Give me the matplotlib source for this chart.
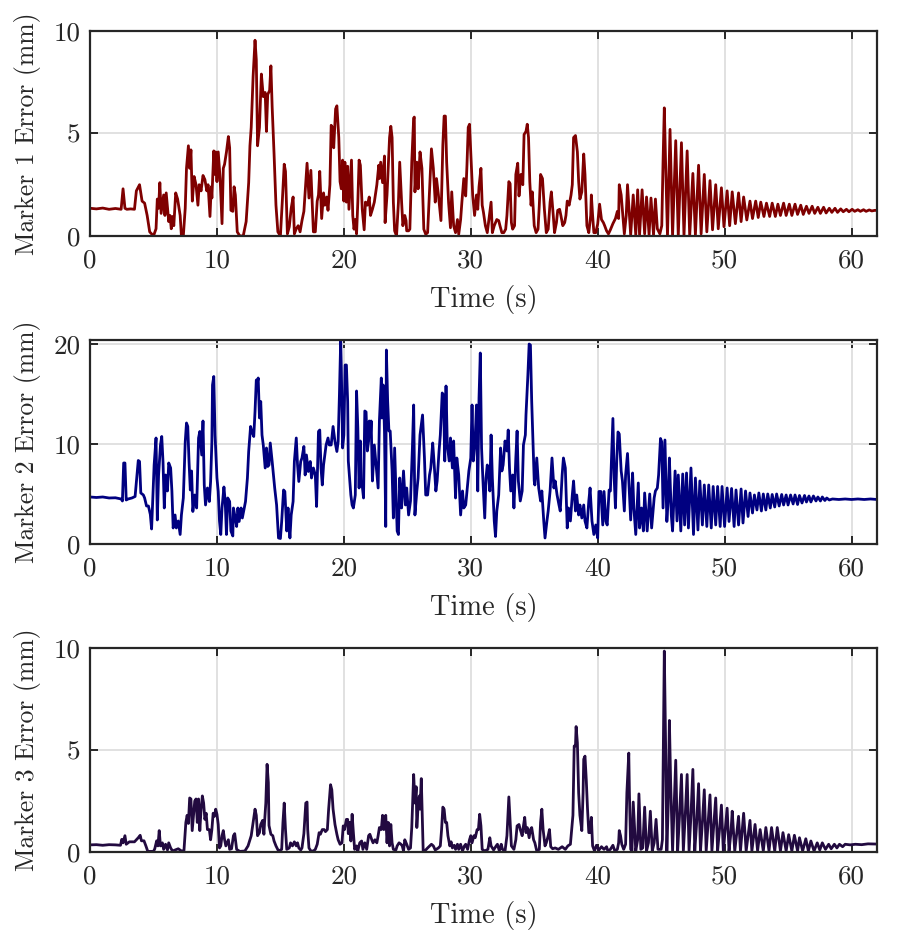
import matplotlib
matplotlib.use("Agg")
import matplotlib.pyplot as plt
import numpy as np

# ---------------- Marker 1 ----------------
t1 = [0.0, 0.5, 1.0, 1.5, 2.0, 2.45, 2.6, 2.75, 2.9, 3.2, 3.5, 3.65, 3.9, 4.1, 4.3, 4.5, 4.7, 5.0, 5.2, 5.3,
      5.4, 5.5, 5.6, 5.8, 5.9, 6.0, 6.2, 6.3, 6.4, 6.5, 6.6, 6.75, 6.9, 7.1, 7.2, 7.35, 7.5, 7.6, 7.75, 7.85,
      7.95, 8.06, 8.2, 8.35, 8.5, 8.6, 8.75, 8.9, 9.05, 9.2, 9.3, 9.45, 9.55, 9.6, 9.75, 9.85, 9.9, 10.0, 10.1, 10.25,
      10.4, 10.5, 10.6, 10.75, 10.9, 11.0, 11.1, 11.25, 11.35, 11.45, 11.6, 11.8, 12.07, 12.3, 12.5, 12.6, 12.7, 12.85, 13.0, 13.1,
      13.2, 13.35, 13.5, 13.65, 13.8, 13.9, 14.0, 14.15, 14.25, 14.35, 14.5, 14.65, 14.8, 15.0, 15.15, 15.3, 15.4, 15.55, 15.7, 15.85,
      16.0, 16.1, 16.25, 16.4, 16.55, 16.7, 16.85, 17.0, 17.1, 17.25, 17.4, 17.5, 17.6, 17.75, 17.9, 18.0, 18.1, 18.25, 18.4, 18.5,
      18.65, 18.75, 18.9, 19.0, 19.1, 19.2, 19.35, 19.45, 19.6, 19.7, 19.8, 19.9, 20.0, 20.08, 20.2, 20.3, 20.4, 20.6, 20.7, 20.8,
      20.9, 21.0, 21.1, 21.2, 21.3, 21.45, 21.6, 21.7, 21.85, 22.0, 22.1, 22.25, 22.4, 22.6, 22.75, 22.8, 22.9, 23.05, 23.2, 23.25,
      23.4, 23.5, 23.6, 23.7, 23.8, 23.9, 24.0, 24.15, 24.3, 24.4, 24.55, 24.65, 24.8, 24.9, 24.95, 25.1, 25.2, 25.35, 25.5, 25.55,
      25.6, 25.75, 25.85, 26.0, 26.15, 26.3, 26.45, 26.6, 26.7, 26.8, 26.9, 27.05, 27.2, 27.3, 27.45, 27.65, 27.8, 27.9, 28.0, 28.1,
      28.25, 28.4, 28.5, 28.65, 28.8, 28.95, 29.05, 29.2, 29.3, 29.45, 29.6, 29.7, 29.8, 29.9, 30.0, 30.15, 30.3, 30.45, 30.55, 30.65,
      30.8, 30.9, 31.0, 31.15, 31.3, 31.4, 31.6, 31.7, 31.85, 32.05, 32.2, 32.3, 32.45, 32.6, 32.75, 32.85, 33.0, 33.1, 33.2, 33.3,
      33.45, 33.55, 33.7, 33.8, 33.95, 34.1, 34.2, 34.35, 34.45, 34.55, 34.65, 34.75, 34.85, 35.0, 35.15, 35.3, 35.4, 35.5, 35.65, 35.8,
      35.95, 36.1, 36.25, 36.35, 36.5, 36.6, 36.75, 36.85, 37.0, 37.1, 37.25, 37.4, 37.5, 37.6, 37.75, 37.9, 38.0, 38.1, 38.25, 38.4,
      38.5, 38.6, 38.75, 38.9, 39.0, 39.15, 39.3, 39.45, 39.5, 39.6, 39.7, 39.85, 40.0, 40.15, 40.3, 40.45, 40.55, 40.7, 40.85, 41.0,
      41.2, 41.4, 41.55, 41.65, 41.7, 41.85, 42.0, 42.1, 42.25, 42.35, 42.5, 42.6, 42.8, 43.0, 43.15, 43.3, 43.5, 43.7, 43.85, 44.05,
      44.2, 44.4, 44.55, 44.7, 44.9, 45.05, 45.15, 45.25, 45.35, 45.5, 45.7, 45.9, 46.15, 46.35, 46.6, 46.8, 47.05, 47.25, 47.5, 47.7,
      47.95, 48.15, 48.4, 48.6, 48.85, 49.05, 49.3, 49.5, 49.75, 49.95, 50.2, 50.4, 50.6, 50.85, 51.1, 51.3, 51.5, 51.75, 52.0, 52.2,
      52.45, 52.65, 52.85, 53.1, 53.3, 53.55, 53.75, 54.0, 54.2, 54.4, 54.65, 54.85, 55.1, 55.3, 55.55, 55.75, 56.0, 56.2, 56.45, 56.65,
      56.9, 57.1, 57.35, 57.55, 57.8, 58.0, 58.25, 58.45, 58.7, 58.9, 59.15, 59.35, 59.6, 59.8, 60.05, 60.25, 60.5, 60.7, 60.95, 61.15,
      61.4, 61.6, 61.85, 62.0]
e1 = [1.35, 1.32, 1.36, 1.30, 1.34, 1.30, 2.3, 1.35, 1.3, 1.32, 1.3, 2.2, 2.5, 1.7, 1.6, 1.0, 0.2, 0.0, 0.35, 1.8,
      1.35, 2.6, 1.1, 2.0, 1.0, 2.1, 0.7, 1.0, 0.35, 0.95, 0.5, 2.1, 1.8, 1.0, 0.0, 0.0, 1.35, 3.3, 4.4, 3.3,
      4.2, 1.7, 2.9, 2.5, 1.5, 2.5, 2.2, 2.95, 2.75, 2.2, 2.5, 0.95, 2.4, 1.85, 4.15, 3.0, 4.1, 2.65, 4.1, 2.8,
      0.6, 3.3, 3.5, 4.1, 4.85, 4.3, 1.25, 1.2, 2.4, 2.0, 0.2, 0.0, 0.0, 0.7, 2.6, 4.4, 5.3, 7.8, 9.55, 8.6,
      4.4, 5.3, 7.9, 6.8, 7.0, 5.1, 6.9, 7.1, 8.3, 6.3, 4.0, 1.5, 0.2, 0.0, 1.7, 3.5, 3.15, 0.1, 0.45, 1.35,
      1.9, 0.1, 0.35, 0.5, 0.2, 0.75, 1.2, 2.6, 3.55, 1.85, 3.2, 1.7, 0.2, 0.2, 1.7, 2.0, 3.15, 0.85, 2.1, 1.5,
      1.9, 1.25, 2.5, 5.4, 5.3, 4.3, 6.2, 6.35, 4.8, 2.65, 2.3, 3.7, 1.7, 3.6, 1.65, 3.4, 1.3, 3.7, 1.0, 0.33,
      0.8, 0.1, 1.65, 3.7, 3.45, 1.3, 0.3, 1.65, 1.5, 1.9, 1.0, 1.3, 1.65, 2.5, 3.45, 2.8, 3.6, 2.6, 3.9, 0.65,
      2.0, 3.4, 4.8, 5.35, 4.8, 1.65, 0.25, 0.0, 1.65, 3.6, 1.65, 0.5, 1.0, 0.75, 0.25, 0.25, 0.33, 3.6, 5.75, 5.8,
      2.15, 3.6, 2.3, 4.1, 3.3, 0.33, 0.08, 0.16, 1.5, 2.8, 4.25, 3.3, 1.65, 2.8, 2.0, 0.75, 4.45, 5.85, 5.85, 3.6,
      1.65, 0.4, 2.15, 0.5, 0.16, 0.8, 0.08, 0.8, 1.65, 2.8, 1.95, 3.45, 5.3, 5.45, 4.1, 2.0, 1.0, 2.0, 1.3, 2.4,
      3.3, 1.5, 1.15, 0.5, 0.16, 0.65, 1.65, 0.16, 0.5, 0.8, 0.75, 0.5, 0.16, 0.16, 0.33, 1.0, 2.65, 2.55, 0.65, 0.33,
      0.5, 3.0, 3.55, 1.95, 3.0, 2.5, 4.95, 5.1, 5.45, 4.8, 2.65, 1.5, 2.15, 0.5, 0.16, 0.33, 1.5, 3.0, 2.8, 1.3,
      0.16, 0.33, 1.65, 2.15, 1.0, 0.16, 0.65, 1.25, 1.3, 1.0, 0.5, 0.65, 1.0, 1.7, 1.5, 2.0, 2.5, 4.8, 4.9, 4.1,
      2.65, 1.8, 2.15, 4.0, 3.0, 0.5, 0.16, 1.0, 2.0, 1.0, 0.16, 0.16, 0.58, 1.55, 0.8, 0.65, 0.5, 0.25, 0.1, 0.3,
      0.6, 0.85, 1.2, 0.85, 2.5, 2.0, 0.85, 0.1, 1.0, 2.5, 1.0, 0.05, 2.0, 0.05, 2.25, 0.05, 2.25, 0.1, 1.9, 0.05,
      1.85, 0.05, 1.8, 0.35, 0.1, 0.5, 3.6, 6.25, 3.6, 0.0, 5.2, 0.0, 4.65, 0.0, 4.55, 0.0, 4.15, 0.0, 3.05, 0.05,
      3.45, 0.1, 3.0, 0.2, 2.7, 0.3, 2.5, 0.35, 2.35, 0.45, 2.2, 0.5, 2.15, 0.6, 2.1, 0.7, 1.9, 0.78, 1.7, 0.85,
      1.7, 0.9, 1.65, 0.95, 1.6, 0.95, 1.6, 0.95, 1.55, 1.0, 1.6, 1.0, 1.55, 1.0, 1.55, 1.05, 1.5, 1.05, 1.45, 1.1,
      1.45, 1.1, 1.4, 1.1, 1.4, 1.12, 1.35, 1.15, 1.35, 1.15, 1.32, 1.18, 1.3, 1.18, 1.3, 1.2, 1.28, 1.2, 1.28, 1.2,
      1.27, 1.22, 1.25, 1.24]

# ---------------- Marker 2 ----------------
t2 = [0.0, 0.5, 1.0, 1.5, 2.0, 2.45, 2.55, 2.65, 2.75, 2.85, 3.0, 3.3, 3.55, 3.7, 3.8, 3.9, 4.0, 4.2, 4.3, 4.45,
      4.6, 4.75, 4.85, 4.95, 5.05, 5.2, 5.3, 5.4, 5.55, 5.65, 5.75, 5.85, 5.95, 6.1, 6.2, 6.35, 6.45, 6.55, 6.7, 6.8,
      6.95, 7.1, 7.2, 7.35, 7.5, 7.6, 7.7, 7.8, 7.9, 8.0, 8.1, 8.25, 8.4, 8.55, 8.65, 8.8, 8.9, 9.0, 9.1, 9.25,
      9.4, 9.5, 9.6, 9.65, 9.75, 9.85, 10.0, 10.1, 10.2, 10.3, 10.4, 10.55, 10.65, 10.75, 10.85, 11.0, 11.1, 11.25, 11.3, 11.4,
      11.55, 11.65, 11.75, 11.9, 12.0, 12.1, 12.25, 12.4, 12.5, 12.65, 12.75, 12.9, 13.0, 13.1, 13.2, 13.25, 13.35, 13.45, 13.55, 13.65,
      13.8, 13.9, 14.0, 14.1, 14.2, 14.35, 14.45, 14.55, 14.7, 14.85, 15.0, 15.1, 15.25, 15.35, 15.5, 15.6, 15.75, 15.85, 16.0, 16.1,
      16.25, 16.35, 16.45, 16.6, 16.7, 16.85, 16.95, 17.05, 17.2, 17.35, 17.45, 17.6, 17.75, 17.85, 18.0, 18.1, 18.2, 18.3, 18.4, 18.5,
      18.6, 18.75, 18.85, 19.0, 19.15, 19.3, 19.45, 19.55, 19.65, 19.75, 19.8, 19.9, 20.0, 20.1, 20.2, 20.3, 20.35, 20.45, 20.55, 20.65,
      20.75, 20.9, 21.0, 21.1, 21.2, 21.3, 21.35, 21.45, 21.55, 21.65, 21.75, 21.85, 21.95, 22.0, 22.1, 22.15, 22.25, 22.4, 22.7, 22.8,
      22.95, 23.0, 23.1, 23.2, 23.3, 23.35, 23.45, 23.55, 23.65, 23.8, 23.9, 24.0, 24.2, 24.3, 24.4, 24.55, 24.7, 24.85, 24.95, 25.1,
      25.25, 25.4, 25.5, 25.6, 25.75, 25.85, 26.0, 26.2, 26.35, 26.45, 26.6, 26.75, 26.85, 27.0, 27.1, 27.25, 27.35, 27.5, 27.6, 27.75,
      27.85, 27.95, 28.05, 28.15, 28.3, 28.4, 28.55, 28.65, 28.8, 28.9, 29.05, 29.2, 29.35, 29.45, 29.6, 29.75, 29.85, 30.0, 30.1, 30.2,
      30.35, 30.45, 30.55, 30.65, 30.75, 30.85, 30.95, 31.1, 31.2, 31.3, 31.4, 31.5, 31.6, 31.7, 31.85, 31.95, 32.05, 32.2, 32.35, 32.45,
      32.55, 32.7, 32.85, 32.95, 33.05, 33.15, 33.3, 33.4, 33.55, 33.65, 33.75, 33.9, 34.05, 34.15, 34.3, 34.35, 34.5, 34.6, 34.7, 34.8,
      34.9, 35.0, 35.05, 35.2, 35.35, 35.5, 35.6, 35.75, 35.85, 36.0, 36.1, 36.25, 36.4, 36.55, 36.65, 36.8, 36.95, 37.05, 37.2, 37.3,
      37.45, 37.6, 37.7, 37.85, 38.0, 38.1, 38.25, 38.35, 38.5, 38.6, 38.75, 38.9, 39.0, 39.15, 39.3, 39.4, 39.55, 39.7, 39.85, 40.0,
      40.1, 40.25, 40.4, 40.5, 40.65, 40.75, 40.9, 41.0, 41.2, 41.3, 41.4, 41.5, 41.6, 41.7, 41.85, 41.95, 42.1, 42.2, 42.35, 42.45,
      42.6, 42.75, 42.85, 43.0, 43.2, 43.3, 43.45, 43.6, 43.7, 43.9, 44.1, 44.25, 44.45, 44.55, 44.7, 44.8, 44.95, 45.05, 45.15, 45.3,
      45.45, 45.55, 45.65, 45.8, 45.9, 46.1, 46.25, 46.35, 46.55, 46.7, 46.85, 47.0, 47.15, 47.35, 47.55, 47.7, 47.9, 48.05, 48.25, 48.4,
      48.6, 48.75, 48.95, 49.1, 49.3, 49.45, 49.65, 49.8, 50.0, 50.2, 50.35, 50.55, 50.75, 50.9, 51.1, 51.3, 51.45, 51.65, 51.85, 52.0,
      52.2, 52.35, 52.55, 52.7, 52.9, 53.05, 53.25, 53.4, 53.6, 53.75, 53.95, 54.1, 54.3, 54.5, 54.65, 54.85, 55.0, 55.2, 55.4, 55.55,
      55.75, 55.9, 56.1, 56.3, 56.45, 56.65, 56.8, 57.0, 57.2, 57.35, 57.55, 57.7, 57.9, 58.05, 58.25, 58.5, 59.0, 59.5, 60.0, 60.5,
      61.0, 61.5, 62.0]
e2 = [4.7, 4.65, 4.7, 4.6, 4.62, 4.5, 4.3, 8.1, 8.1, 4.4, 4.5, 4.6, 4.75, 6.9, 8.35, 8.25, 5.1, 4.9, 4.6, 3.8,
      3.8, 2.95, 1.5, 4.75, 7.9, 10.6, 2.4, 6.9, 9.9, 10.75, 8.2, 3.6, 6.9, 5.3, 8.1, 7.6, 5.3, 1.6, 2.9, 1.6,
      2.3, 0.95, 2.9, 4.6, 10.2, 12.1, 11.75, 8.25, 5.4, 7.3, 3.25, 4.9, 3.6, 10.6, 11.25, 8.9, 12.3, 5.9, 3.9, 5.6,
      4.25, 6.25, 10.2, 15.9, 16.75, 10.9, 6.6, 5.25, 2.3, 0.95, 3.6, 5.7, 4.25, 0.95, 4.6, 4.25, 1.3, 0.8, 3.6, 2.9,
      1.75, 3.6, 2.25, 3.6, 2.6, 3.25, 4.25, 6.6, 9.25, 11.75, 11.25, 10.75, 13.25, 16.4, 16.25, 16.6, 12.6, 14.25, 10.9, 9.9,
      7.6, 9.6, 7.75, 7.9, 10.1, 8.25, 6.9, 5.6, 3.9, 0.6, 0.55, 2.25, 5.4, 5.25, 1.3, 3.6, 0.6, 2.9, 4.25, 8.25,
      10.6, 7.9, 6.25, 8.25, 8.6, 9.75, 6.9, 8.9, 7.25, 8.25, 6.6, 7.6, 6.9, 3.75, 11.25, 11.4, 7.6, 5.9, 7.9, 8.9,
      9.9, 10.6, 9.9, 9.9, 11.75, 10.25, 9.25, 10.25, 14.9, 20.4, 17.6, 9.6, 10.9, 17.9, 17.9, 14.2, 8.3, 6.6, 4.9, 3.9,
      3.6, 4.9, 15.3, 11.6, 5.6, 10.3, 6.3, 5.8, 4.6, 13.3, 13.2, 9.3, 10.3, 12.3, 10.9, 12.3, 6.3, 9.9, 5.6, 12.3,
      16.6, 12.6, 15.9, 11.3, 1.75, 19.4, 14.3, 11.3, 11.3, 7.3, 2.6, 9.6, 1.3, 0.95, 6.6, 3.6, 7.3, 3.9, 5.6, 2.9,
      4.3, 9.6, 13.9, 2.9, 5.3, 6.6, 10.9, 12.9, 8.6, 4.9, 4.9, 6.9, 7.6, 10.1, 8.3, 5.3, 6.3, 9.3, 10.9, 15.1,
      14.9, 8.3, 15.8, 9.9, 8.3, 10.6, 7.6, 10.3, 4.6, 8.6, 6.9, 2.9, 5.3, 3.6, 3.9, 5.9, 7.3, 8.6, 13.9, 8.3,
      10.6, 13.9, 5.3, 14.6, 19.1, 9.6, 6.6, 2.6, 6.6, 7.9, 6.9, 5.3, 10.9, 6.6, 2.3, 0.75, 3.3, 4.9, 9.6, 7.3,
      7.9, 10.3, 9.3, 11.4, 7.6, 5.3, 6.9, 3.6, 8.6, 11.3, 6.3, 4.3, 5.3, 9.9, 10.9, 12.9, 16.9, 20.0, 19.9, 14.3,
      10.3, 6.3, 5.9, 8.6, 5.6, 4.3, 5.3, 2.3, 0.6, 2.3, 3.3, 5.3, 8.6, 5.6, 6.3, 4.9, 3.9, 3.3, 6.9, 8.6,
      7.6, 1.6, 3.6, 2.3, 4.9, 6.3, 3.3, 4.9, 2.9, 3.9, 2.6, 3.9, 2.3, 1.6, 4.3, 5.6, 2.3, 0.95, 1.9, 0.6,
      5.25, 5.25, 1.9, 5.25, 2.25, 1.9, 5.4, 5.3, 12.55, 6.6, 3.6, 8.3, 11.2, 11.0, 7.3, 6.3, 3.3, 6.9, 9.05, 6.3,
      2.4, 7.1, 3.6, 0.95, 6.1, 1.6, 3.6, 1.3, 5.1, 1.3, 5.0, 1.6, 4.6, 5.3, 5.6, 6.9, 10.55, 10.2, 3.6, 10.4,
      2.25, 4.3, 8.6, 2.9, 1.3, 7.3, 2.3, 6.9, 1.3, 7.0, 1.9, 7.1, 1.6, 7.6, 0.95, 6.6, 1.4, 6.3, 1.9, 5.9,
      1.75, 5.9, 1.6, 5.75, 1.9, 5.75, 1.75, 5.75, 1.75, 5.6, 2.25, 5.55, 1.75, 5.4, 1.9, 5.5, 2.1, 5.3, 2.75, 5.1,
      3.1, 4.9, 3.4, 5.1, 3.3, 5.0, 3.4, 5.0, 3.6, 4.95, 3.7, 5.0, 3.8, 4.95, 3.9, 4.9, 3.9, 4.9, 4.0, 4.9,
      3.95, 4.85, 4.1, 4.85, 4.2, 4.8, 4.2, 4.8, 4.3, 4.7, 4.3, 4.7, 4.35, 4.6, 4.4, 4.5, 4.45, 4.5, 4.45, 4.5,
      4.45, 4.5, 4.45]

# ---------------- Marker 3 ----------------
t3 = [0.0, 0.5, 1.0, 1.5, 2.0, 2.4, 2.5, 2.6, 2.75, 2.85, 3.1, 3.5, 3.8, 3.95, 4.05, 4.25, 4.4, 4.55, 5.0, 5.1,
      5.25, 5.35, 5.45, 5.55, 5.7, 5.8, 5.95, 6.1, 6.2, 6.35, 6.5, 6.7, 6.95, 7.2, 7.4, 7.55, 7.65, 7.75, 7.85, 7.95,
      8.05, 8.15, 8.25, 8.35, 8.45, 8.55, 8.65, 8.75, 8.85, 8.95, 9.05, 9.15, 9.25, 9.4, 9.5, 9.6, 9.7, 9.8, 9.9, 10.0,
      10.1, 10.2, 10.3, 10.4, 10.5, 10.6, 10.7, 10.9, 11.0, 11.15, 11.3, 11.4, 11.55, 11.8, 12.2, 12.45, 12.7, 12.85, 13.0, 13.1,
      13.2, 13.35, 13.45, 13.6, 13.7, 13.75, 13.85, 13.95, 14.05, 14.1, 14.25, 14.4, 14.5, 14.65, 14.85, 15.1, 15.2, 15.3, 15.4, 15.5,
      15.7, 15.8, 15.95, 16.1, 16.25, 16.35, 16.45, 16.6, 16.7, 16.85, 17.0, 17.1, 17.15, 17.25, 17.4, 17.6, 17.75, 17.9, 18.05, 18.15,
      18.3, 18.45, 18.55, 18.7, 18.8, 18.95, 19.05, 19.15, 19.3, 19.45, 19.55, 19.7, 19.85, 19.95, 20.05, 20.2, 20.3, 20.35, 20.45, 20.55,
      20.65, 20.75, 20.85, 21.0, 21.1, 21.25, 21.4, 21.5, 21.65, 21.8, 21.95, 22.05, 22.2, 22.3, 22.45, 22.6, 22.7, 22.8, 22.95, 23.05,
      23.15, 23.3, 23.4, 23.5, 23.6, 23.7, 23.8, 23.9, 24.1, 24.2, 24.35, 24.5, 24.6, 24.7, 24.8, 24.95, 25.1, 25.25, 25.35, 25.45,
      25.5, 25.6, 25.7, 25.75, 25.85, 25.95, 26.0, 26.05, 26.1, 26.25, 26.45, 26.6, 26.9, 27.05, 27.2, 27.35, 27.45, 27.6, 27.7, 27.8,
      27.9, 28.0, 28.1, 28.2, 28.35, 28.45, 28.55, 28.7, 28.8, 28.95, 29.05, 29.2, 29.35, 29.5, 29.6, 29.75, 29.9, 30.0, 30.1, 30.25,
      30.35, 30.5, 30.6, 30.7, 30.8, 30.9, 31.1, 31.35, 31.5, 31.6, 31.8, 32.0, 32.1, 32.25, 32.4, 32.5, 32.7, 32.85, 32.95, 33.0,
      33.1, 33.2, 33.4, 33.55, 33.65, 33.8, 33.9, 34.05, 34.15, 34.25, 34.35, 34.45, 34.6, 34.7, 34.8, 34.95, 35.05, 35.2, 35.4, 35.5,
      35.6, 35.7, 35.85, 35.95, 36.1, 36.2, 36.3, 36.45, 36.65, 36.9, 37.2, 37.45, 37.65, 37.85, 38.05, 38.15, 38.25, 38.3, 38.4, 38.5,
      38.6, 38.75, 38.85, 38.9, 39.0, 39.1, 39.2, 39.3, 39.4, 39.5, 39.6, 39.75, 39.9, 40.1, 40.3, 40.5, 40.7, 40.8, 41.0, 41.2,
      41.35, 41.55, 41.65, 41.7, 41.8, 41.9, 42.05, 42.2, 42.3, 42.45, 42.5, 42.6, 42.7, 42.8, 43.0, 43.15, 43.25, 43.4, 43.55, 43.7,
      43.85, 44.0, 44.15, 44.3, 44.45, 44.6, 44.75, 45.0, 45.1, 45.18, 45.25, 45.35, 45.45, 45.55, 45.65, 45.75, 45.9, 46.0, 46.15, 46.3,
      46.45, 46.6, 46.75, 46.9, 47.05, 47.2, 47.35, 47.5, 47.65, 47.8, 47.95, 48.1, 48.25, 48.4, 48.55, 48.7, 48.85, 49.0, 49.15, 49.3,
      49.45, 49.6, 49.75, 49.9, 50.05, 50.2, 50.35, 50.5, 50.6, 50.8, 50.95, 51.1, 51.25, 51.5, 51.7, 52.0, 52.15, 52.4, 52.6, 52.8,
      53.05, 53.25, 53.5, 53.7, 53.95, 54.15, 54.4, 54.6, 54.85, 55.05, 55.3, 55.5, 55.75, 55.9, 56.15, 56.4, 56.6, 56.8, 57.05, 57.3,
      57.5, 57.7, 57.95, 58.2, 58.4, 58.65, 58.85, 59.05, 59.3, 59.5, 59.9, 60.3, 60.8, 61.3, 62.0]
e3 = [0.35, 0.36, 0.33, 0.36, 0.35, 0.33, 0.62, 0.45, 0.8, 0.38, 0.5, 0.5, 0.7, 0.82, 0.55, 0.55, 0.3, 0.03, 0.03, 0.16,
      0.55, 0.3, 1.05, 0.3, 0.45, 0.13, 0.38, 0.1, 0.45, 0.2, 0.05, 0.1, 0.16, 0.05, 0.07, 1.45, 1.8, 1.4, 2.65, 2.6,
      1.05, 1.8, 2.5, 2.6, 1.45, 2.6, 1.05, 2.1, 2.75, 2.4, 1.6, 1.9, 1.1, 1.1, 0.6, 1.1, 1.9, 1.75, 2.1, 1.85,
      1.35, 0.2, 0.3, 0.8, 1.05, 0.6, 0.3, 0.6, 0.13, 0.16, 0.8, 0.9, 0.13, 0.03, 0.05, 0.3, 0.8, 1.45, 2.1, 1.8,
      0.8, 0.95, 1.35, 1.55, 0.87, 1.45, 2.4, 4.3, 3.4, 1.3, 0.87, 0.8, 0.54, 0.3, 0.05, 0.13, 1.45, 2.4, 1.1, 0.13,
      0.2, 0.45, 0.3, 0.5, 0.3, 0.45, 0.2, 0.1, 0.2, 0.9, 2.4, 2.45, 1.1, 0.2, 0.05, 0.05, 0.13, 0.38, 0.95, 0.87,
      1.1, 1.1, 1.0, 1.1, 2.1, 3.3, 3.05, 2.1, 1.35, 0.87, 0.6, 0.38, 0.45, 1.28, 1.1, 1.6, 1.6, 0.9, 1.45, 0.54,
      1.85, 0.95, 0.13, 0.3, 0.05, 0.45, 0.54, 0.13, 0.45, 0.13, 0.8, 0.87, 0.6, 0.45, 0.6, 0.45, 0.8, 1.2, 1.1, 1.8,
      1.1, 1.8, 0.45, 1.45, 0.3, 1.35, 0.45, 0.13, 0.1, 0.3, 0.45, 0.38, 0.3, 0.05, 0.6, 0.38, 0.13, 0.2, 1.2, 2.9,
      3.8, 2.4, 3.2, 1.2, 2.25, 2.75, 2.1, 2.8, 3.6, 0.05, 0.1, 0.2, 0.38, 0.3, 0.1, 0.16, 0.2, 0.3, 1.1, 2.2,
      2.1, 1.45, 1.45, 0.8, 0.3, 0.5, 0.2, 0.33, 0.13, 0.38, 0.13, 0.38, 0.05, 0.3, 0.38, 0.13, 0.6, 0.8, 0.45, 0.8,
      0.7, 1.1, 1.1, 1.85, 1.28, 0.13, 0.05, 0.13, 0.7, 0.3, 0.1, 0.3, 0.38, 0.05, 0.38, 0.13, 0.05, 0.8, 2.1, 2.7,
      1.45, 0.3, 0.13, 0.6, 1.28, 1.35, 1.1, 0.8, 1.28, 1.7, 0.95, 1.2, 0.7, 1.1, 1.2, 0.6, 0.45, 0.05, 0.13, 1.45,
      2.1, 1.1, 0.3, 0.45, 0.8, 1.1, 0.26, 0.16, 0.2, 0.13, 0.26, 0.13, 0.3, 0.38, 1.8, 5.2, 5.2, 6.15, 5.35, 2.9,
      1.8, 1.05, 2.9, 4.55, 4.7, 3.55, 2.1, 0.95, 0.95, 1.7, 0.3, 0.05, 0.33, 0.1, 0.26, 0.13, 0.26, 0.05, 0.13, 0.33,
      0.05, 0.13, 0.45, 1.05, 0.8, 0.38, 0.13, 0.38, 2.9, 4.85, 2.9, 0.13, 0.05, 2.45, 0.05, 0.6, 2.85, 0.13, 0.2, 2.2,
      0.05, 0.45, 2.0, 0.05, 0.45, 1.6, 0.13, 0.13, 0.6, 5.35, 9.85, 5.35, 0.05, 2.1, 6.45, 3.4, 0.05, 1.8, 4.5, 0.05,
      1.8, 3.8, 0.05, 1.8, 3.8, 0.05, 1.8, 4.05, 0.05, 1.45, 3.35, 0.05, 1.45, 3.05, 0.05, 1.45, 2.8, 0.05, 1.35, 2.65,
      0.05, 1.1, 2.3, 0.05, 1.1, 2.15, 0.05, 0.95, 2.0, 0.05, 0.87, 1.75, 0.05, 1.9, 0.05, 1.55, 0.05, 1.35, 0.05, 1.1,
      0.05, 1.2, 0.05, 1.2, 0.05, 1.2, 0.05, 0.95, 0.05, 0.85, 0.05, 0.82, 0.05, 0.7, 0.05, 0.65, 0.05, 0.54, 0.05, 0.45,
      0.1, 0.45, 0.13, 0.38, 0.16, 0.38, 0.2, 0.38, 0.26, 0.38, 0.35, 0.38, 0.36, 0.4, 0.39]

xticks = [0, 10, 20, 30, 40, 50, 60]
series = [
    (t1, e1, "#7f0000", "Marker 1 Error (mm)", (0, 10), [0, 5, 10]),
    (t2, e2, "#000080", "Marker 2 Error (mm)", (0, 20.4), [0, 10, 20]),
    (t3, e3, "#220a40", "Marker 3 Error (mm)", (0, 10), [0, 5, 10]),
]

plt.rcParams["font.family"] = ["cmr10", "DejaVu Serif"]
plt.rcParams["axes.unicode_minus"] = False
plt.rcParams["mathtext.fontset"] = "cm"

fig = plt.figure(figsize=(9.16, 9.40), dpi=100)
positions = [
    [0.0983, 0.749, 0.859, 0.218],
    [0.0983, 0.4213, 0.859, 0.2170],
    [0.0983, 0.0936, 0.859, 0.2170],
]
for pos, (t, e, col, ylab, ylim, yt) in zip(positions, series):
    ax = fig.add_axes(pos)
    ax.plot(t, e, color=col, lw=2.0, solid_joinstyle="round")
    ax.set_xlim(0, 62)
    ax.set_ylim(*ylim)
    ax.set_xticks(xticks)
    ax.set_yticks(yt)
    ax.grid(True, color="#dedede", lw=1.3)
    ax.set_axisbelow(True)
    for s in ax.spines.values():
        s.set_color("#262626")
        s.set_linewidth(1.6)
    ax.tick_params(direction="in", length=6, width=1.4, color="#262626",
                   top=True, right=True, labelsize=19.5, labelcolor="#262626")
    ax.tick_params(axis="x", pad=9)
    ax.tick_params(axis="y", pad=7)
    ax.set_xlabel("Time (s)", fontsize=20.5, color="#262626", labelpad=9)
    ax.set_ylabel(ylab, fontsize=18.5, color="#262626", labelpad=9)

fig.savefig("out.png", dpi=100)
